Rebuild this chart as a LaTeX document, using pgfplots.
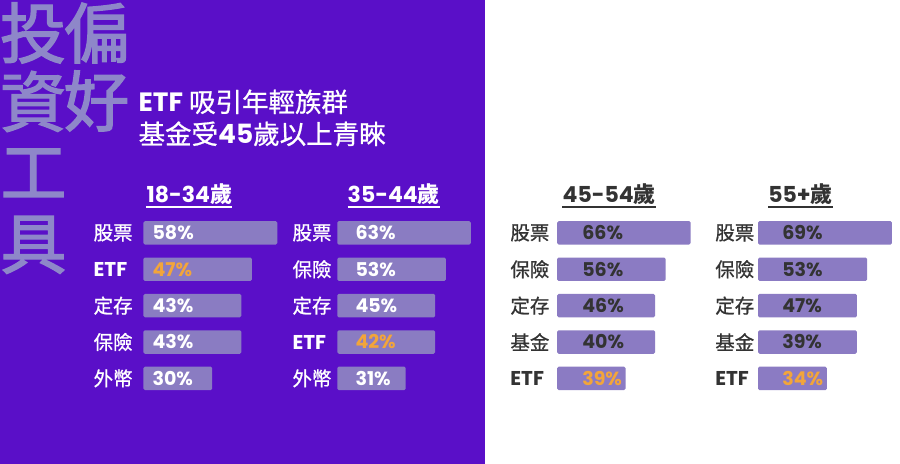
\documentclass[border=0pt]{standalone}
\usepackage{pgfplots}
\pgfplotsset{compat=1.18}
\usepackage{pgfplotstable}
\usepackage{fontspec}
\setmainfont{Noto Sans CJK TC}
\newfontfamily\pop{Poppins}
\newfontfamily\bigcjk{Noto Sans CJK TC}[FakeBold=2]
\newfontfamily\medcjk{Noto Sans CJK TC}[FakeBold=0.8]
\definecolor{bgpurple}{HTML}{5A0FC8}
\definecolor{barL}{HTML}{8A7CC2}
\definecolor{barR}{HTML}{8B7BC3}
\definecolor{bigtxt}{HTML}{8E87C9}
\definecolor{etfor}{HTML}{F2A53A}
\definecolor{dark}{HTML}{333333}

% row: position top->bottom; len: drawn bar length; pct: printed value; etf: 1 = ETF row
\pgfplotstableread{
row len  pct etf
0   58   58  0
1   47   47  1
2   42.4 43  0
3   42.4 43  0
4   29.8 30  0
}\tabA
\pgfplotstableread{
row len  pct etf
0   57.8 63  0
1   47   53  0
2   42.4 45  0
3   42.4 42  1
4   29.6 31  0
}\tabB
\pgfplotstableread{
row len  pct etf
0   57.8 66  0
1   47   56  0
2   42.4 46  0
3   42.4 40  0
4   29.6 39  1
}\tabC
\pgfplotstableread{
row len  pct etf
0   58   69  0
1   47.2 53  0
2   42.8 47  0
3   42.8 39  0
4   29.8 34  1
}\tabD

\pgfplotsset{
  panel/.style={
    scale only axis, width=138.6pt, height=182pt,
    xmin=0, xmax=60, ymin=-0.5, ymax=4.5, y dir=reverse,
    axis line style={draw=none}, xtick=\empty, ytick={0,1,2,3,4},
    major tick length=0pt, clip=false, anchor=north west,
    yticklabel style={anchor=west, inner sep=0pt, font=\medcjk\fontsize{19.5}{19.5}\selectfont},
  },
  vals/.style={
    draw=none, point meta=explicit symbolic,
    visualization depends on={\thisrow{etf}\as\isetf},
    nodes near coords={\ifdim\isetf pt>0.5pt \color{etfor}\fi\pgfplotspointmeta\%},
    every node near coord/.style={anchor=west, inner sep=0pt,
      font=\pop\bfseries\fontsize{19}{19}\selectfont, text=#1},
  },
}
\newcommand{\etf}{{\pop\bfseries\fontsize{20}{20}\selectfont ETF}}

\begin{document}
\begin{tikzpicture}[x=1pt,y=1pt]
\fill[white] (0,0) rectangle (900,464);
\fill[bgpurple] (0,0) rectangle (485,464);

% big background words
\begin{scope}[every node/.style={text=bigtxt, inner sep=0pt, anchor=center, font=\bigcjk\fontsize{66}{66}\selectfont}]
\node at (32.5,431) {投};
\node at (96,431) {偏};
\node at (32.5,362.5) {資};
\node at (96,363) {好};
\node at (33,291) {工};
\node at (33,219) {具};
\end{scope}

% title
\node[anchor=base west, inner sep=0pt, text=white, font=\medcjk\fontsize{26.5}{26.5}\selectfont] at (138,352) {{\pop\bfseries ETF} 吸引年輕族群};
\node[anchor=base west, inner sep=0pt, text=white, font=\medcjk\fontsize{26.5}{26.5}\selectfont] at (138,320) {基金受{\pop\bfseries 45}歲以上青睞};

% panel headers
\node (h1) [anchor=base, inner sep=0pt, text=white, font=\fontsize{22}{22}\selectfont] at (189,261) {{\pop\bfseries 18-34}\bfseries 歲};
\node (h2) [anchor=base, inner sep=0pt, text=white, font=\fontsize{22}{22}\selectfont] at (393.5,261) {{\pop\bfseries 35-44}\bfseries 歲};
\node (h3) [anchor=base, inner sep=0pt, text=dark, font=\fontsize{22}{22}\selectfont] at (609,261) {{\pop\bfseries 45-54}\bfseries 歲};
\node (h4) [anchor=base, inner sep=0pt, text=dark, font=\fontsize{22}{22}\selectfont] at (800.5,261) {{\pop\bfseries 55+}\bfseries 歲};
\draw[white, line width=1.8pt] ([yshift=-4pt]h1.base west) -- ([yshift=-4pt]h1.base east);
\draw[white, line width=1.8pt] ([yshift=-4pt]h2.base west) -- ([yshift=-4pt]h2.base east);
\draw[dark, line width=1.8pt] ([yshift=-4pt]h3.base west) -- ([yshift=-4pt]h3.base east);
\draw[dark, line width=1.8pt] ([yshift=-4pt]h4.base west) -- ([yshift=-4pt]h4.base east);

% panel 1: 18-34
\begin{axis}[panel, at={(143pt,249.2pt)},
  yticklabels={股票,\etf,定存,保險,外幣},
  yticklabel style={xshift=-50pt, text=white}]
\addplot[xbar, bar width=23.5pt, fill=barL, draw=none, rounded corners=1.5pt] table[x=len, y=row] {\tabA};
\addplot[vals=white] table[x expr=3.9, y=row, meta=pct] {\tabA};
\end{axis}

% panel 2: 35-44
\begin{axis}[panel, at={(337pt,249.2pt)},
  yticklabels={股票,保險,定存,\etf,外幣},
  yticklabel style={xshift=-45pt, text=white}]
\addplot[xbar, bar width=23.5pt, fill=barL, draw=none, rounded corners=1.5pt] table[x=len, y=row] {\tabB};
\addplot[vals=white] table[x expr=7.8, y=row, meta=pct] {\tabB};
\end{axis}

% panel 3: 45-54
\begin{axis}[panel, at={(557pt,249.2pt)},
  yticklabels={股票,保險,定存,基金,\etf},
  yticklabel style={xshift=-47pt, text=dark}]
\addplot[xbar, bar width=23.5pt, fill=barR, draw=none, rounded corners=1.5pt] table[x=len, y=row] {\tabC};
\addplot[vals=dark] table[x expr=10.8, y=row, meta=pct] {\tabC};
\end{axis}

% panel 4: 55+
\begin{axis}[panel, at={(758pt,249.2pt)},
  yticklabels={股票,保險,定存,基金,\etf},
  yticklabel style={xshift=-43pt, text=dark}]
\addplot[xbar, bar width=23.5pt, fill=barR, draw=none, rounded corners=1.5pt] table[x=len, y=row] {\tabD};
\addplot[vals=dark] table[x expr=10.4, y=row, meta=pct] {\tabD};
\end{axis}
\end{tikzpicture}
\end{document}
